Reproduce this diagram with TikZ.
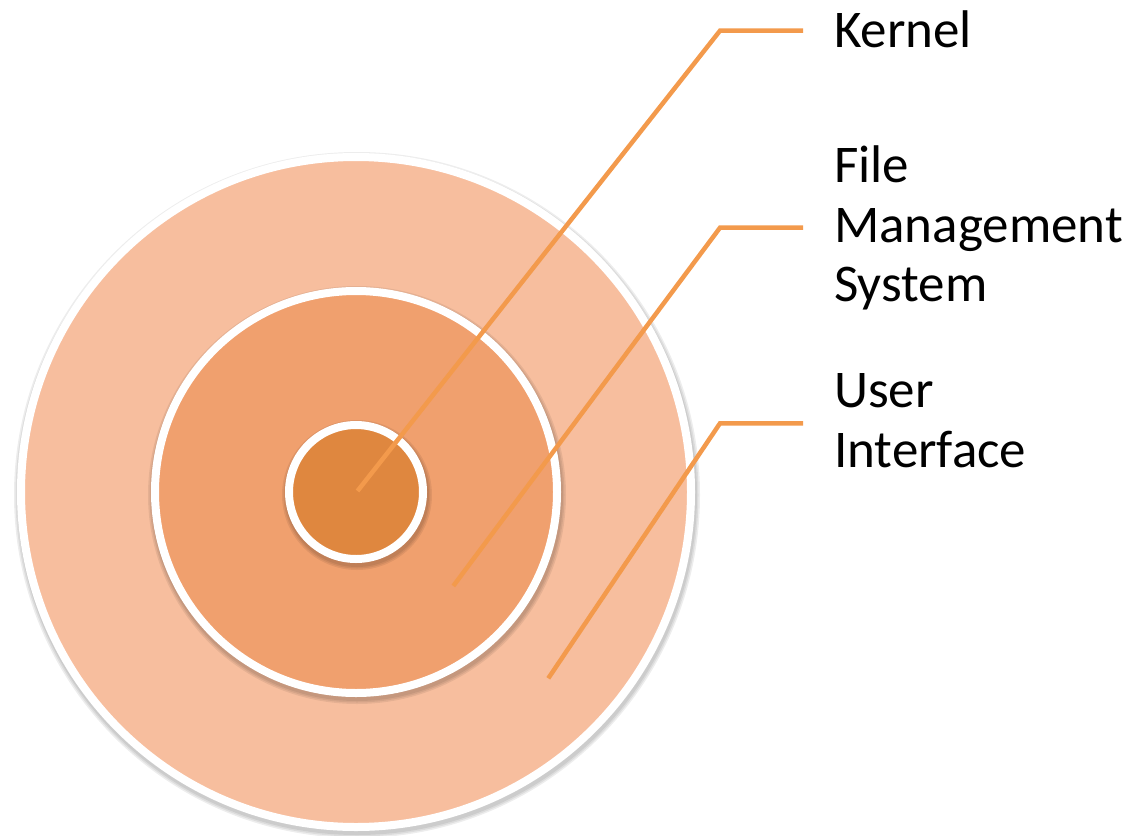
\documentclass[tikz,border=0pt]{standalone}
\usepackage{fontspec}
\setmainfont{Carlito}
\definecolor{ringA}{HTML}{F7BE9E}
\definecolor{ringB}{HTML}{F0A06E}
\definecolor{ringC}{HTML}{DF873F}
\definecolor{leadC}{HTML}{F39A4C}
\tikzset{
  ring/.style={circle, draw=white, line width=8pt, inner sep=0pt, outer sep=0pt},
  softshade/.style={fill=black, opacity=0.07},
  leader/.style={draw=leadC, line width=4.5pt},
  lbl/.style={anchor=base west, inner sep=0pt, align=left,
    font=\fontsize{53}{59.5}\selectfont, text=black}
}
\begin{document}
\begin{tikzpicture}[x=1pt,y=-1pt]
\useasboundingbox (0,0) rectangle (1132,835);
\coordinate (c) at (356,492);
\coordinate (cs) at (357,495);
% soft shadows
\foreach \d in {0,1.5,3}{\fill[softshade] (cs) circle (340+\d);}
\node[ring, fill=ringA, minimum size=670pt] (outer) at (c) {};
\foreach \d in {0,1.5,3}{\fill[softshade] (cs) circle (206+\d);}
\node[ring, fill=ringB, minimum size=402pt] (middle) at (c) {};
\foreach \d in {0,1.5,3}{\fill[softshade] (cs) circle (72+\d);}
\node[ring, fill=ringC, minimum size=134pt] (inner) at (c) {};

% base anchor of a multi-line node sits on its last line
\node[lbl] (kernel) at (834,47) {Kernel};
\node[lbl] (fms) at (834,301.5) {File\\Management\\System};
\node[lbl] (ui) at (834,467) {User\\Interface};

\coordinate (k0) at (357.5,491);
\coordinate (k1) at (720,30.7);
\coordinate (k2) at (803,30.7);
\coordinate (f0) at (453.3,586);
\coordinate (f1) at (720,227.7);
\coordinate (f2) at (803,227.7);
\coordinate (u0) at (548.3,678.3);
\coordinate (u1) at (720,423.3);
\coordinate (u2) at (803,423.3);
\draw[leader] (k0) -- (k1) -- (k2);
\draw[leader] (f0) -- (f1) -- (f2);
\draw[leader] (u0) -- (u1) -- (u2);
\end{tikzpicture}
\end{document}
